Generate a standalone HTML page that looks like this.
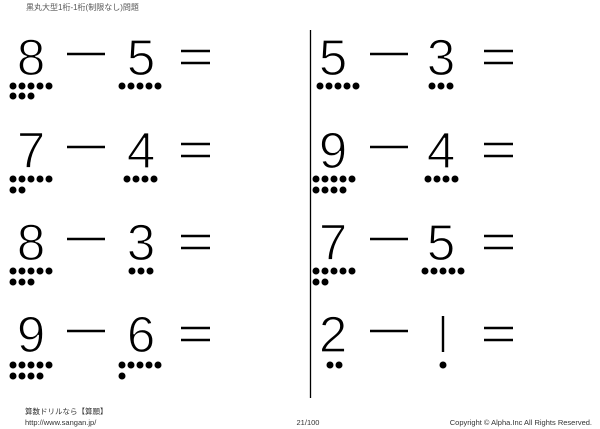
<!DOCTYPE html>
<html><head><meta charset="utf-8"><style>
html,body{margin:0;padding:0;background:#fff;}
svg{display:block}
</style></head><body>
<svg width="600" height="429" viewBox="0 0 600 429" xmlns="http://www.w3.org/2000/svg">
<rect width="600" height="429" fill="#fff"/>
<text x="26" y="10" font-family="Liberation Sans, Noto Sans CJK JP, sans-serif" font-size="8" fill="#555">黒丸大型1桁-1桁(制限なし)問題</text>
<line x1="310.5" y1="30" x2="310.5" y2="398" stroke="#000" stroke-width="1.3"/>
<g font-family="Liberation Sans, sans-serif" font-size="51" fill="#000" stroke="#fff" stroke-width="1.2" text-anchor="middle">
<text x="31" y="75">8</text><text x="141" y="75">5</text>
<text x="31" y="168">7</text><text x="141" y="168">4</text>
<text x="31" y="260">8</text><text x="141" y="260">3</text>
<text x="31" y="352">9</text><text x="141" y="352">6</text>
<text x="333" y="75">5</text><text x="441" y="75">3</text>
<text x="333" y="168">9</text><text x="441" y="168">4</text>
<text x="333" y="260">7</text><text x="441" y="260">5</text>
<text x="333" y="352">2</text>
</g>
<g stroke="#000" stroke-width="2.4">
<line x1="67" y1="54" x2="105" y2="54"/><line x1="67" y1="147" x2="105" y2="147"/>
<line x1="67" y1="239" x2="105" y2="239"/><line x1="67" y1="331" x2="105" y2="331"/>
<line x1="370" y1="54" x2="408" y2="54"/><line x1="370" y1="147" x2="408" y2="147"/>
<line x1="370" y1="239" x2="408" y2="239"/><line x1="370" y1="331" x2="408" y2="331"/>
<line x1="181" y1="51" x2="210" y2="51"/><line x1="181" y1="63" x2="210" y2="63"/>
<line x1="181" y1="144" x2="210" y2="144"/><line x1="181" y1="156" x2="210" y2="156"/>
<line x1="181" y1="236" x2="210" y2="236"/><line x1="181" y1="248" x2="210" y2="248"/>
<line x1="181" y1="328" x2="210" y2="328"/><line x1="181" y1="340" x2="210" y2="340"/>
<line x1="484" y1="51" x2="513" y2="51"/><line x1="484" y1="63" x2="513" y2="63"/>
<line x1="484" y1="144" x2="513" y2="144"/><line x1="484" y1="156" x2="513" y2="156"/>
<line x1="484" y1="236" x2="513" y2="236"/><line x1="484" y1="248" x2="513" y2="248"/>
<line x1="484" y1="328" x2="513" y2="328"/><line x1="484" y1="340" x2="513" y2="340"/>
<line x1="443" y1="316" x2="443" y2="352"/>
</g>
<g fill="#000">
<circle cx="13" cy="86" r="3.5"/><circle cx="22" cy="86" r="3.5"/><circle cx="31" cy="86" r="3.5"/><circle cx="40" cy="86" r="3.5"/><circle cx="49" cy="86" r="3.5"/>
<circle cx="13" cy="96" r="3.5"/><circle cx="22" cy="96" r="3.5"/><circle cx="31" cy="96" r="3.5"/>
<circle cx="122" cy="86" r="3.5"/><circle cx="131" cy="86" r="3.5"/><circle cx="140" cy="86" r="3.5"/><circle cx="149" cy="86" r="3.5"/><circle cx="158" cy="86" r="3.5"/>
<circle cx="13" cy="179" r="3.5"/><circle cx="22" cy="179" r="3.5"/><circle cx="31" cy="179" r="3.5"/><circle cx="40" cy="179" r="3.5"/><circle cx="49" cy="179" r="3.5"/>
<circle cx="13" cy="190" r="3.5"/><circle cx="22" cy="190" r="3.5"/>
<circle cx="127" cy="179" r="3.5"/><circle cx="136" cy="179" r="3.5"/><circle cx="145" cy="179" r="3.5"/><circle cx="154" cy="179" r="3.5"/>
<circle cx="13" cy="271" r="3.5"/><circle cx="22" cy="271" r="3.5"/><circle cx="31" cy="271" r="3.5"/><circle cx="40" cy="271" r="3.5"/><circle cx="49" cy="271" r="3.5"/>
<circle cx="13" cy="282" r="3.5"/><circle cx="22" cy="282" r="3.5"/><circle cx="31" cy="282" r="3.5"/>
<circle cx="132" cy="271" r="3.5"/><circle cx="141" cy="271" r="3.5"/><circle cx="150" cy="271" r="3.5"/>
<circle cx="13" cy="365" r="3.5"/><circle cx="22" cy="365" r="3.5"/><circle cx="31" cy="365" r="3.5"/><circle cx="40" cy="365" r="3.5"/><circle cx="49" cy="365" r="3.5"/>
<circle cx="13" cy="376" r="3.5"/><circle cx="22" cy="376" r="3.5"/><circle cx="31" cy="376" r="3.5"/><circle cx="40" cy="376" r="3.5"/>
<circle cx="122" cy="365" r="3.5"/><circle cx="131" cy="365" r="3.5"/><circle cx="140" cy="365" r="3.5"/><circle cx="149" cy="365" r="3.5"/><circle cx="158" cy="365" r="3.5"/>
<circle cx="122" cy="376" r="3.5"/>
<circle cx="320" cy="86" r="3.5"/><circle cx="329" cy="86" r="3.5"/><circle cx="338" cy="86" r="3.5"/><circle cx="347" cy="86" r="3.5"/><circle cx="356" cy="86" r="3.5"/>
<circle cx="432" cy="86" r="3.5"/><circle cx="441" cy="86" r="3.5"/><circle cx="450" cy="86" r="3.5"/>
<circle cx="316" cy="179" r="3.5"/><circle cx="325" cy="179" r="3.5"/><circle cx="334" cy="179" r="3.5"/><circle cx="343" cy="179" r="3.5"/><circle cx="352" cy="179" r="3.5"/>
<circle cx="316" cy="190" r="3.5"/><circle cx="325" cy="190" r="3.5"/><circle cx="334" cy="190" r="3.5"/><circle cx="343" cy="190" r="3.5"/>
<circle cx="428" cy="179" r="3.5"/><circle cx="437" cy="179" r="3.5"/><circle cx="446" cy="179" r="3.5"/><circle cx="455" cy="179" r="3.5"/>
<circle cx="316" cy="271" r="3.5"/><circle cx="325" cy="271" r="3.5"/><circle cx="334" cy="271" r="3.5"/><circle cx="343" cy="271" r="3.5"/><circle cx="352" cy="271" r="3.5"/>
<circle cx="316" cy="282" r="3.5"/><circle cx="325" cy="282" r="3.5"/>
<circle cx="425" cy="271" r="3.5"/><circle cx="434" cy="271" r="3.5"/><circle cx="443" cy="271" r="3.5"/><circle cx="452" cy="271" r="3.5"/><circle cx="461" cy="271" r="3.5"/>
<circle cx="330" cy="365" r="3.5"/><circle cx="339" cy="365" r="3.5"/>
<circle cx="443" cy="365" r="3.5"/>
</g>
<g font-family="Liberation Sans, Noto Sans CJK JP, sans-serif" font-size="7.5" fill="#333">
<text x="25" y="414">算数ドリルなら【算願】</text>
<text x="25" y="425">http://www.sangan.jp/</text>
<text x="308" y="425" text-anchor="middle">21/100</text>
<text x="592" y="425" text-anchor="end">Copyright © Alpha.Inc All Rights Reserved.</text>
</g>
</svg>
</body></html>
